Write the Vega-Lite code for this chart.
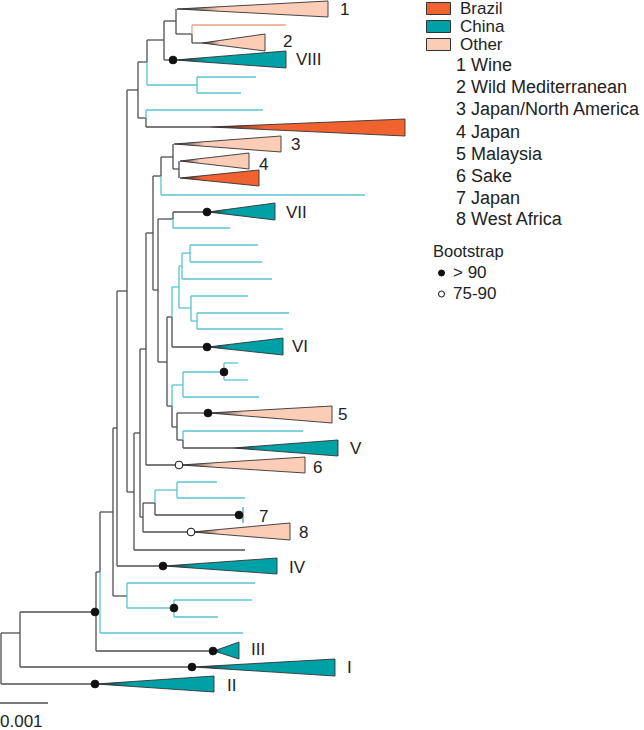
{
  "$schema": "https://vega.github.io/schema/vega-lite/v6.json",
  "width": 644,
  "height": 730,
  "autosize": "none",
  "padding": 0,
  "background": "white",
  "config": {"view": {"stroke": null}, "font": "Liberation Sans"},
  "datasets": {
    "branches": [
      {"x":1,"y":633,"x2":1,"y2":684,"lin":"internal"},
      {"x":1,"y":633,"x2":20,"y2":633,"lin":"internal"},
      {"x":1,"y":684,"x2":96,"y2":684,"lin":"internal"},
      {"x":20,"y":612,"x2":20,"y2":667,"lin":"internal"},
      {"x":20,"y":667,"x2":193,"y2":667,"lin":"internal"},
      {"x":20,"y":612,"x2":96,"y2":612,"lin":"internal"},
      {"x":96,"y":572,"x2":96,"y2":651,"lin":"internal"},
      {"x":96,"y":651,"x2":214,"y2":651,"lin":"internal"},
      {"x":96,"y":572,"x2":100,"y2":572,"lin":"internal"},
      {"x":100,"y":512,"x2":100,"y2":572,"lin":"internal"},
      {"x":100,"y":572,"x2":100,"y2":633,"lin":"China"},
      {"x":100,"y":633,"x2":243,"y2":633,"lin":"China"},
      {"x":100,"y":512,"x2":113,"y2":512,"lin":"internal"},
      {"x":113,"y":428,"x2":113,"y2":596,"lin":"internal"},
      {"x":113,"y":596,"x2":127,"y2":596,"lin":"internal"},
      {"x":127,"y":583,"x2":127,"y2":608,"lin":"China"},
      {"x":127,"y":583,"x2":255,"y2":583,"lin":"China"},
      {"x":127,"y":608,"x2":174,"y2":608,"lin":"China"},
      {"x":174,"y":600,"x2":174,"y2":617,"lin":"China"},
      {"x":174,"y":600,"x2":252,"y2":600,"lin":"China"},
      {"x":174,"y":617,"x2":218,"y2":617,"lin":"China"},
      {"x":113,"y":428,"x2":117,"y2":428,"lin":"internal"},
      {"x":117,"y":291,"x2":117,"y2":566,"lin":"internal"},
      {"x":117,"y":566,"x2":164,"y2":566,"lin":"internal"},
      {"x":117,"y":291,"x2":127,"y2":291,"lin":"internal"},
      {"x":127,"y":90,"x2":127,"y2":492,"lin":"internal"},
      {"x":127,"y":90,"x2":138,"y2":90,"lin":"internal"},
      {"x":127,"y":492,"x2":134,"y2":492,"lin":"internal"},
      {"x":134,"y":433,"x2":134,"y2":550,"lin":"internal"},
      {"x":134,"y":550,"x2":245,"y2":550,"lin":"internal"},
      {"x":134,"y":433,"x2":140,"y2":433,"lin":"internal"},
      {"x":140,"y":349,"x2":140,"y2":517,"lin":"internal"},
      {"x":140,"y":517,"x2":143,"y2":517,"lin":"internal"},
      {"x":143,"y":503,"x2":143,"y2":532,"lin":"internal"},
      {"x":143,"y":532,"x2":192,"y2":532,"lin":"internal"},
      {"x":143,"y":503,"x2":155,"y2":503,"lin":"internal"},
      {"x":155,"y":490,"x2":155,"y2":503,"lin":"China"},
      {"x":155,"y":503,"x2":155,"y2":515,"lin":"internal"},
      {"x":155,"y":490,"x2":177,"y2":490,"lin":"China"},
      {"x":177,"y":482,"x2":177,"y2":498,"lin":"China"},
      {"x":177,"y":482,"x2":217,"y2":482,"lin":"China"},
      {"x":177,"y":498,"x2":245,"y2":498,"lin":"China"},
      {"x":155,"y":515,"x2":243,"y2":515,"lin":"internal"},
      {"x":243,"y":507,"x2":243,"y2":523,"lin":"Japan"},
      {"x":140,"y":349,"x2":146,"y2":349,"lin":"internal"},
      {"x":146,"y":233,"x2":146,"y2":465,"lin":"internal"},
      {"x":146,"y":465,"x2":180,"y2":465,"lin":"internal"},
      {"x":146,"y":233,"x2":153,"y2":233,"lin":"internal"},
      {"x":153,"y":176,"x2":153,"y2":290,"lin":"internal"},
      {"x":153,"y":176,"x2":161,"y2":176,"lin":"internal"},
      {"x":161,"y":157,"x2":161,"y2":176,"lin":"internal"},
      {"x":161,"y":176,"x2":161,"y2":195,"lin":"China"},
      {"x":161,"y":195,"x2":365,"y2":195,"lin":"China"},
      {"x":161,"y":157,"x2":173,"y2":157,"lin":"internal"},
      {"x":173,"y":144,"x2":173,"y2":169,"lin":"internal"},
      {"x":173,"y":169,"x2":179,"y2":169,"lin":"internal"},
      {"x":179,"y":161,"x2":179,"y2":178,"lin":"internal"},
      {"x":153,"y":290,"x2":158,"y2":290,"lin":"internal"},
      {"x":158,"y":219,"x2":158,"y2":362,"lin":"internal"},
      {"x":158,"y":219,"x2":173,"y2":219,"lin":"internal"},
      {"x":173,"y":212,"x2":173,"y2":219,"lin":"internal"},
      {"x":173,"y":219,"x2":173,"y2":228,"lin":"China"},
      {"x":173,"y":212,"x2":208,"y2":212,"lin":"internal"},
      {"x":173,"y":228,"x2":230,"y2":228,"lin":"China"},
      {"x":158,"y":362,"x2":167,"y2":362,"lin":"internal"},
      {"x":167,"y":317,"x2":167,"y2":406,"lin":"internal"},
      {"x":167,"y":317,"x2":172,"y2":317,"lin":"internal"},
      {"x":172,"y":287,"x2":172,"y2":317,"lin":"China"},
      {"x":172,"y":317,"x2":172,"y2":347,"lin":"internal"},
      {"x":172,"y":347,"x2":208,"y2":347,"lin":"internal"},
      {"x":172,"y":287,"x2":179,"y2":287,"lin":"China"},
      {"x":179,"y":266,"x2":179,"y2":308,"lin":"China"},
      {"x":179,"y":266,"x2":182,"y2":266,"lin":"China"},
      {"x":182,"y":253,"x2":182,"y2":279,"lin":"China"},
      {"x":182,"y":253,"x2":190,"y2":253,"lin":"China"},
      {"x":190,"y":245,"x2":190,"y2":262,"lin":"China"},
      {"x":190,"y":245,"x2":258,"y2":245,"lin":"China"},
      {"x":190,"y":262,"x2":262,"y2":262,"lin":"China"},
      {"x":182,"y":279,"x2":272,"y2":279,"lin":"China"},
      {"x":179,"y":308,"x2":191,"y2":308,"lin":"China"},
      {"x":191,"y":296,"x2":191,"y2":321,"lin":"China"},
      {"x":191,"y":296,"x2":248,"y2":296,"lin":"China"},
      {"x":191,"y":321,"x2":197,"y2":321,"lin":"China"},
      {"x":197,"y":313,"x2":197,"y2":329,"lin":"China"},
      {"x":197,"y":313,"x2":289,"y2":313,"lin":"China"},
      {"x":197,"y":329,"x2":283,"y2":329,"lin":"China"},
      {"x":167,"y":406,"x2":172,"y2":406,"lin":"internal"},
      {"x":172,"y":385,"x2":172,"y2":406,"lin":"China"},
      {"x":172,"y":406,"x2":172,"y2":427,"lin":"internal"},
      {"x":172,"y":385,"x2":183,"y2":385,"lin":"China"},
      {"x":183,"y":372,"x2":183,"y2":397,"lin":"China"},
      {"x":183,"y":397,"x2":259,"y2":397,"lin":"China"},
      {"x":183,"y":372,"x2":224,"y2":372,"lin":"China"},
      {"x":224,"y":363,"x2":224,"y2":380,"lin":"China"},
      {"x":224,"y":363,"x2":238,"y2":363,"lin":"China"},
      {"x":224,"y":380,"x2":248,"y2":380,"lin":"China"},
      {"x":172,"y":427,"x2":177,"y2":427,"lin":"internal"},
      {"x":177,"y":413,"x2":177,"y2":440,"lin":"internal"},
      {"x":177,"y":413,"x2":209,"y2":413,"lin":"internal"},
      {"x":177,"y":440,"x2":183,"y2":440,"lin":"internal"},
      {"x":183,"y":431,"x2":183,"y2":440,"lin":"China"},
      {"x":183,"y":440,"x2":183,"y2":448,"lin":"internal"},
      {"x":183,"y":431,"x2":303,"y2":431,"lin":"China"},
      {"x":183,"y":448,"x2":233,"y2":448,"lin":"internal"},
      {"x":138,"y":62,"x2":138,"y2":118,"lin":"internal"},
      {"x":138,"y":62,"x2":147,"y2":62,"lin":"internal"},
      {"x":147,"y":40,"x2":147,"y2":62,"lin":"internal"},
      {"x":147,"y":62,"x2":147,"y2":85,"lin":"China"},
      {"x":147,"y":85,"x2":197,"y2":85,"lin":"China"},
      {"x":197,"y":77,"x2":197,"y2":93,"lin":"China"},
      {"x":197,"y":77,"x2":256,"y2":77,"lin":"China"},
      {"x":197,"y":93,"x2":241,"y2":93,"lin":"China"},
      {"x":147,"y":40,"x2":164,"y2":40,"lin":"internal"},
      {"x":164,"y":21,"x2":164,"y2":60,"lin":"internal"},
      {"x":164,"y":60,"x2":175,"y2":60,"lin":"internal"},
      {"x":164,"y":21,"x2":176,"y2":21,"lin":"internal"},
      {"x":176,"y":9,"x2":176,"y2":34,"lin":"internal"},
      {"x":176,"y":34,"x2":192,"y2":34,"lin":"internal"},
      {"x":192,"y":25,"x2":192,"y2":34,"lin":"Other"},
      {"x":192,"y":34,"x2":192,"y2":43,"lin":"internal"},
      {"x":192,"y":25,"x2":286,"y2":25,"lin":"Other"},
      {"x":192,"y":43,"x2":202,"y2":43,"lin":"internal"},
      {"x":138,"y":118,"x2":146,"y2":118,"lin":"internal"},
      {"x":146,"y":110,"x2":146,"y2":118,"lin":"China"},
      {"x":146,"y":118,"x2":146,"y2":127,"lin":"internal"},
      {"x":146,"y":110,"x2":263,"y2":110,"lin":"China"},
      {"x":146,"y":127,"x2":210,"y2":127,"lin":"internal"},
      {"x":0,"y":703,"x2":48,"y2":703,"lin":"internal"}
    ],
    "clades": [
      {"clade":"1","group":"Other","x":177,"y":9,"y2":9},{"clade":"1","group":"Other","x":328,"y":1,"y2":17},
      {"clade":"2","group":"Other","x":202,"y":43,"y2":43},{"clade":"2","group":"Other","x":265,"y":34,"y2":51},
      {"clade":"VIII","group":"China","x":175,"y":60,"y2":60},{"clade":"VIII","group":"China","x":286,"y":51,"y2":68},
      {"clade":"BR1","group":"Brazil","x":210,"y":127,"y2":127},{"clade":"BR1","group":"Brazil","x":405,"y":119,"y2":136},
      {"clade":"3","group":"Other","x":174,"y":144,"y2":144},{"clade":"3","group":"Other","x":281,"y":136,"y2":152},
      {"clade":"4","group":"Other","x":180,"y":161,"y2":161},{"clade":"4","group":"Other","x":249,"y":153,"y2":169},
      {"clade":"BR2","group":"Brazil","x":180,"y":178,"y2":178},{"clade":"BR2","group":"Brazil","x":259,"y":170,"y2":186},
      {"clade":"VII","group":"China","x":208,"y":212,"y2":212},{"clade":"VII","group":"China","x":275,"y":203,"y2":220},
      {"clade":"VI","group":"China","x":208,"y":347,"y2":347},{"clade":"VI","group":"China","x":283,"y":338,"y2":355},
      {"clade":"5","group":"Other","x":209,"y":413,"y2":413},{"clade":"5","group":"Other","x":332,"y":406,"y2":423},
      {"clade":"V","group":"China","x":233,"y":448,"y2":448},{"clade":"V","group":"China","x":338,"y":440,"y2":456},
      {"clade":"6","group":"Other","x":180,"y":465,"y2":465},{"clade":"6","group":"Other","x":305,"y":457,"y2":473},
      {"clade":"8","group":"Other","x":192,"y":532,"y2":532},{"clade":"8","group":"Other","x":290,"y":523,"y2":540},
      {"clade":"IV","group":"China","x":164,"y":566,"y2":566},{"clade":"IV","group":"China","x":277,"y":558,"y2":574},
      {"clade":"III","group":"China","x":214,"y":651,"y2":651},{"clade":"III","group":"China","x":239,"y":642,"y2":659},
      {"clade":"I","group":"China","x":193,"y":667,"y2":667},{"clade":"I","group":"China","x":335,"y":659,"y2":676},
      {"clade":"II","group":"China","x":96,"y":684,"y2":684},{"clade":"II","group":"China","x":214,"y":676,"y2":692}
    ],
    "support": [
      {"x":173,"y":60,"boot":"> 90"},
      {"x":207,"y":212,"boot":"> 90"},
      {"x":207,"y":347,"boot":"> 90"},
      {"x":224,"y":372,"boot":"> 90"},
      {"x":208,"y":413,"boot":"> 90"},
      {"x":179,"y":465,"boot":"75-90"},
      {"x":239,"y":515,"boot":"> 90"},
      {"x":191,"y":532,"boot":"75-90"},
      {"x":163,"y":566,"boot":"> 90"},
      {"x":174,"y":608,"boot":"> 90"},
      {"x":95,"y":612,"boot":"> 90"},
      {"x":213,"y":651,"boot":"> 90"},
      {"x":192,"y":667,"boot":"> 90"},
      {"x":95,"y":684,"boot":"> 90"}
    ],
    "labels": [
      {"x":340,"y":10,"text":"1"},
      {"x":283,"y":42,"text":"2"},
      {"x":296,"y":60,"text":"VIII"},
      {"x":291,"y":145,"text":"3"},
      {"x":259,"y":165,"text":"4"},
      {"x":286,"y":213,"text":"VII"},
      {"x":292,"y":347,"text":"VI"},
      {"x":338,"y":415,"text":"5"},
      {"x":350,"y":449,"text":"V"},
      {"x":313,"y":468,"text":"6"},
      {"x":259,"y":517,"text":"7"},
      {"x":299,"y":533,"text":"8"},
      {"x":289,"y":568,"text":"IV"},
      {"x":251,"y":650,"text":"III"},
      {"x":347,"y":668,"text":"I"},
      {"x":227,"y":686,"text":"II"},
      {"x":0,"y":722,"text":"0.001"}
    ],
    "notes": [
      {"x":456,"y":66,"text":"1 Wine"},
      {"x":456,"y":88,"text":"2 Wild Mediterranean"},
      {"x":456,"y":110,"text":"3 Japan/North America"},
      {"x":456,"y":133,"text":"4 Japan"},
      {"x":456,"y":155,"text":"5 Malaysia"},
      {"x":456,"y":177,"text":"6 Sake"},
      {"x":456,"y":199,"text":"7 Japan"},
      {"x":456,"y":220,"text":"8 West Africa"}
    ]
  },
  "layer": [
    {
      "data": {"name": "branches"},
      "mark": {"type": "rule", "strokeWidth": 1.3},
      "encoding": {
        "x": {"field": "x", "type": "quantitative", "scale": {"domain": [0, 644], "nice": false, "zero": false}, "axis": null},
        "x2": {"field": "x2"},
        "y": {"field": "y", "type": "quantitative", "scale": {"domain": [0, 730], "nice": false, "zero": false, "reverse": true}, "axis": null},
        "y2": {"field": "y2"},
        "stroke": {"field": "lin", "type": "nominal", "scale": {"domain": ["internal", "China", "Other", "Japan"], "range": ["#4F4F4F", "#58C4D0", "#EBA286", "#4A9BD6"]}, "legend": null}
      }
    },
    {
      "data": {"name": "clades"},
      "mark": {"type": "area", "orient": "vertical", "stroke": "#333333", "strokeWidth": 0.9, "opacity": 1},
      "encoding": {
        "x": {"field": "x", "type": "quantitative"},
        "y": {"field": "y", "type": "quantitative"},
        "y2": {"field": "y2"},
        "detail": {"field": "clade"},
        "color": {
          "field": "group", "type": "nominal",
          "scale": {"domain": ["Brazil", "China", "Other"], "range": ["#F0622F", "#00A1A6", "#FCCDB6"]},
          "legend": {
            "orient": "none", "legendX": 424, "legendY": 0, "title": null, "padding": 0,
            "symbolType": "M0,-1H4V1H0Z", "symbolSize": 144, "symbolOffset": -6,
            "symbolStrokeColor": "#333333", "symbolStrokeWidth": 1, "symbolOpacity": 1,
            "labelFontSize": 17, "labelFont": "Liberation Sans", "labelColor": "#222222",
            "labelOffset": 25, "rowPadding": 0
          }
        }
      }
    },
    {
      "data": {"name": "clades"},
      "mark": {"type": "area", "orient": "vertical", "strokeWidth": 0,
        "fill": {"gradient": "linear", "x1": 0, "y1": 0, "x2": 1, "y2": 0,
          "stops": [{"offset": 0, "color": "rgba(40,40,40,1)"}, {"offset": 0.28, "color": "rgba(40,40,40,0)"}, {"offset": 1, "color": "rgba(40,40,40,0)"}]}},
      "encoding": {
        "x": {"field": "x", "type": "quantitative"},
        "y": {"field": "y", "type": "quantitative"},
        "y2": {"field": "y2"},
        "detail": {"field": "clade"}
      }
    },
    {
      "data": {"name": "support"},
      "mark": {"type": "point", "shape": "circle", "filled": true, "stroke": "#111111", "strokeWidth": 1, "size": 60, "opacity": 1},
      "encoding": {
        "x": {"field": "x", "type": "quantitative"},
        "y": {"field": "y", "type": "quantitative"},
        "fill": {
          "field": "boot", "type": "nominal",
          "scale": {"domain": ["> 90", "75-90"], "range": ["#111111", "#FFFFFF"]},
          "legend": {
            "orient": "none", "legendX": 433, "legendY": 244, "title": "Bootstrap", "padding": 0,
            "titleFontSize": 16.5, "titleFontWeight": "normal", "titleFont": "Liberation Sans", "titleColor": "#222222", "titlePadding": 4,
            "symbolType": "circle", "symbolSize": 36, "symbolStrokeColor": "#111111", "symbolStrokeWidth": 1, "symbolOpacity": 1,
            "labelFontSize": 17, "labelFont": "Liberation Sans", "labelColor": "#222222", "labelOffset": 3, "rowPadding": 3
          }
        }
      }
    },
    {
      "data": {"name": "labels"},
      "mark": {"type": "text", "align": "left", "baseline": "middle", "fontSize": 17, "font": "Liberation Sans", "color": "#222222"},
      "encoding": {
        "x": {"field": "x", "type": "quantitative"},
        "y": {"field": "y", "type": "quantitative"},
        "text": {"field": "text"}
      }
    },
    {
      "data": {"name": "notes"},
      "mark": {"type": "text", "align": "left", "baseline": "middle", "fontSize": 18, "font": "Liberation Sans", "color": "#222222"},
      "encoding": {
        "x": {"field": "x", "type": "quantitative"},
        "y": {"field": "y", "type": "quantitative"},
        "text": {"field": "text"}
      }
    }
  ]
}
